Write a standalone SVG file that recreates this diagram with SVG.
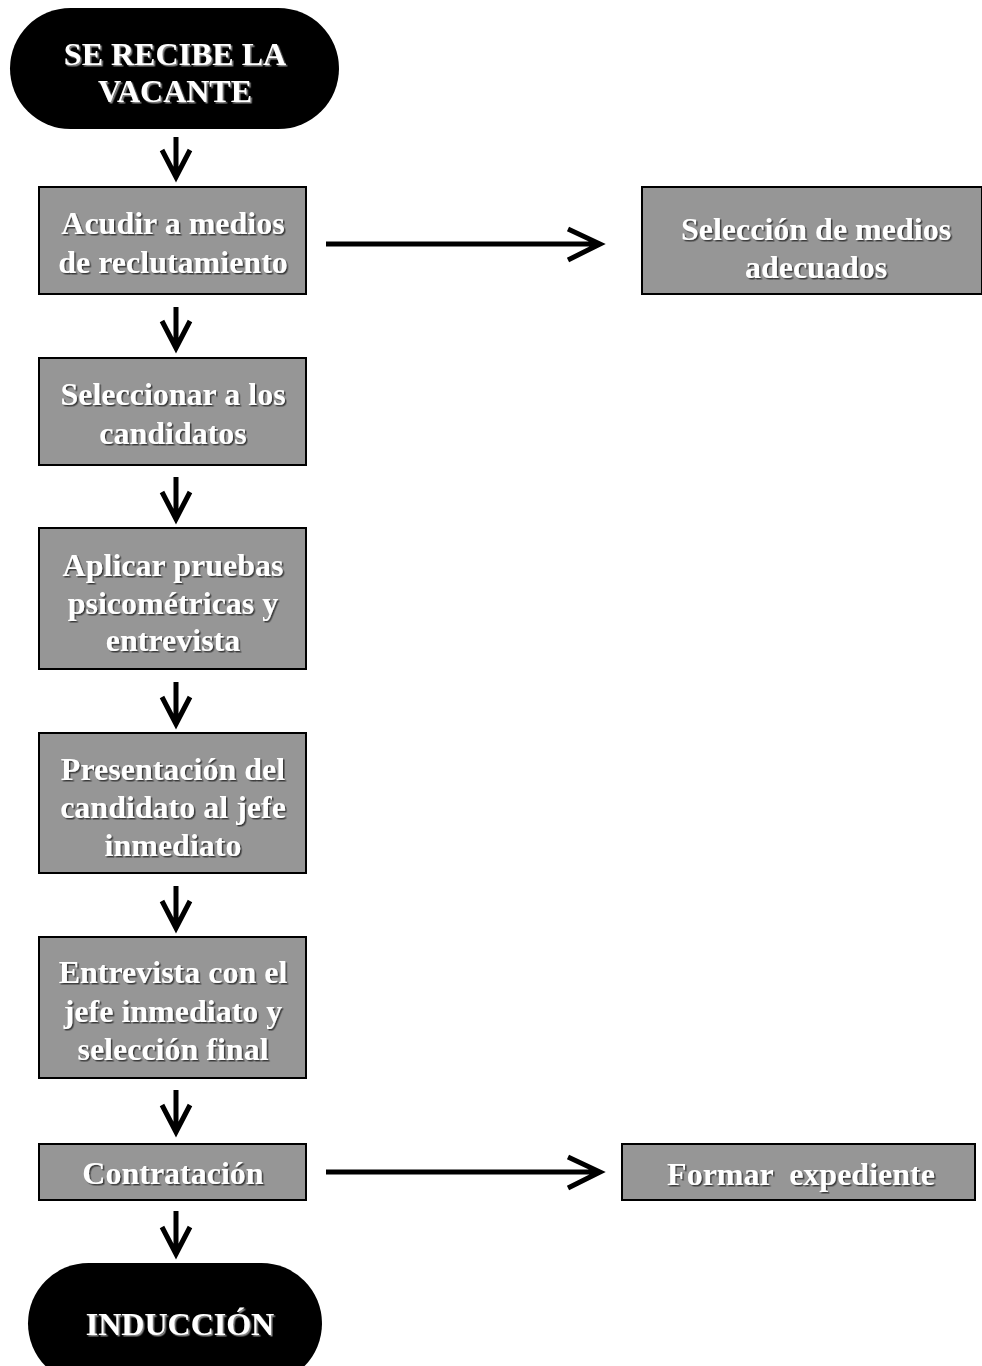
<svg xmlns="http://www.w3.org/2000/svg" width="982" height="1366" viewBox="0 0 982 1366">
  <style>
    .term { fill: #000; }
    .box { fill: #969696; stroke: #000; stroke-width: 2; }
    .lbl { font-family: "Liberation Serif", "Times New Roman", serif; font-weight: bold; fill: #fff; text-anchor: middle; font-size: 32px; }
    .box-lbl { filter: url(#shadowDark); }
    .term-lbl { filter: url(#shadowLight); }
    .conn { stroke: #000; stroke-width: 5; fill: none; stroke-linecap: butt; stroke-linejoin: miter; }
  </style>
  <defs>
    <filter id="shadowDark" x="-10%" y="-20%" width="120%" height="150%">
      <feDropShadow dx="1.5" dy="1.5" stdDeviation="0.5" flood-color="#333" flood-opacity="0.9"/>
    </filter>
    <filter id="shadowLight" x="-10%" y="-20%" width="120%" height="150%">
      <feDropShadow dx="1.5" dy="1.5" stdDeviation="0.4" flood-color="#8a8a8a" flood-opacity="1"/>
    </filter>
  </defs>

  <rect width="982" height="1366" fill="#fff"/>

  <!-- connectors: vertical flow arrows and the two side branches -->
  <g id="connectors">
    <path class="conn" d="M176 137 V177 M162 150 L176 177 L190 150"/>
    <path class="conn" d="M176 307 V348 M162 321 L176 348 L190 321"/>
    <path class="conn" d="M176 477 V519 M162 492 L176 519 L190 492"/>
    <path class="conn" d="M176 682 V724 M162 697 L176 724 L190 697"/>
    <path class="conn" d="M176 886 V928 M162 901 L176 928 L190 901"/>
    <path class="conn" d="M176 1090 V1132 M162 1105 L176 1132 L190 1105"/>
    <path class="conn" d="M176 1211 V1254 M162 1227 L176 1254 L190 1227"/>
    <path class="conn" d="M326 244 H600 M568 229 L600 244 L568 260"/>
    <path class="conn" d="M326 1172 H600 M568 1157 L600 1172 L568 1188"/>
  </g>

  <g id="start">
    <rect class="term" x="10" y="8" width="329" height="121" rx="60.5" ry="60.5"/>
    <text class="lbl term-lbl" x="175" y="65">SE RECIBE LA</text>
    <text class="lbl term-lbl" x="175" y="102">VACANTE</text>
  </g>

  <g id="acudir">
    <rect class="box" x="39" y="187" width="267" height="107"/>
    <text class="lbl box-lbl" x="173" y="234">Acudir a medios</text>
    <text class="lbl box-lbl" x="173" y="273">de reclutamiento</text>
  </g>

  <g id="seleccion-medios">
    <rect class="box" x="642" y="187" width="340" height="107"/>
    <text class="lbl box-lbl" x="816" y="240">Selección de medios</text>
    <text class="lbl box-lbl" x="816" y="278">adecuados</text>
  </g>

  <g id="seleccionar">
    <rect class="box" x="39" y="358" width="267" height="107"/>
    <text class="lbl box-lbl" x="173" y="405">Seleccionar a los</text>
    <text class="lbl box-lbl" x="173" y="444">candidatos</text>
  </g>

  <g id="pruebas">
    <rect class="box" x="39" y="528" width="267" height="141"/>
    <text class="lbl box-lbl" x="173" y="576">Aplicar pruebas</text>
    <text class="lbl box-lbl" x="173" y="614">psicométricas y</text>
    <text class="lbl box-lbl" x="173" y="651">entrevista</text>
  </g>

  <g id="presentacion">
    <rect class="box" x="39" y="733" width="267" height="140"/>
    <text class="lbl box-lbl" x="173" y="780">Presentación del</text>
    <text class="lbl box-lbl" x="173" y="818">candidato al jefe</text>
    <text class="lbl box-lbl" x="173" y="856">inmediato</text>
  </g>

  <g id="entrevista">
    <rect class="box" x="39" y="937" width="267" height="141"/>
    <text class="lbl box-lbl" x="173" y="983">Entrevista con el</text>
    <text class="lbl box-lbl" x="173" y="1022">jefe inmediato y</text>
    <text class="lbl box-lbl" x="173" y="1060">selección final</text>
  </g>

  <g id="contratacion">
    <rect class="box" x="39" y="1144" width="267" height="56"/>
    <text class="lbl box-lbl" x="173" y="1184">Contratación</text>
  </g>

  <g id="expediente">
    <rect class="box" x="622" y="1144" width="353" height="56"/>
    <text class="lbl box-lbl" x="801" y="1185" xml:space="preserve">Formar  expediente</text>
  </g>

  <g id="end">
    <rect class="term" x="28" y="1263" width="294" height="121" rx="60.5" ry="60.5"/>
    <text class="lbl term-lbl" x="180" y="1335">INDUCCIÓN</text>
  </g>
</svg>
